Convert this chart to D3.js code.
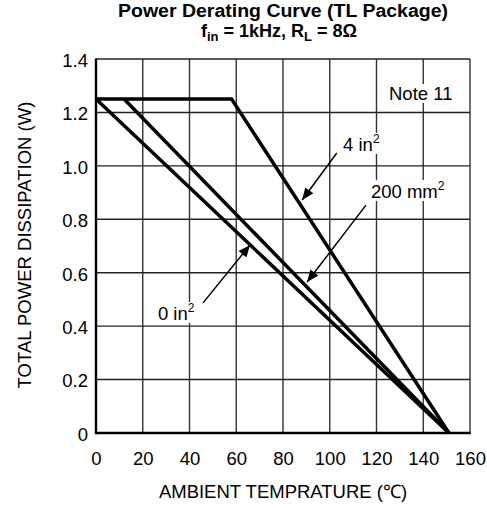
<!DOCTYPE html>
<html>
<head>
<meta charset="utf-8">
<script src="https://cdn.jsdelivr.net/npm/d3@7"></script>
<style>
  body { margin: 0; background: #fff; }
  text { font-family: "Liberation Sans", Arial, sans-serif; fill: #000; }
</style>
</head>
<body>
<div id="chart"></div>
<script>
// chart data
var tempTicks = [0, 20, 40, 60, 80, 100, 120, 140, 160];
var powerTicks = [0, 0.2, 0.4, 0.6, 0.8, 1.0, 1.2, 1.4];

// curves, [temperature C, power W]
var curve4in = [[0, 1.25], [58, 1.25], [151, 0]];
var curve200mm = [[12, 1.25], [151, 0]];
var curve0in = [[0, 1.25], [151, 0]];

// callouts: label, label anchor point, arrow tail, arrow tip (data units)
var callouts = [
    {main: "4 in", sup: "2", lx: 105.7, ly: 1.056, tail: [103, 1.048], tip: [88.2, 0.872]},
    {main: "200 mm", sup: "2", lx: 117.6, ly: 0.880, tail: [115.5, 0.853], tip: [90.3, 0.565]},
    {main: "0 in", sup: "2", lx: 26.5, ly: 0.423, tail: [45.8, 0.487], tip: [65.9, 0.704]}
];

var width = 487, height = 508;
var plotLeft = 96, plotRight = 470, plotTop = 59, plotBottom = 433;
var fs = "18.5px";

var svg = d3.select("#chart")
    .append("svg")
    .attr("width", width)
    .attr("height", height);

var x = d3.scaleLinear().domain([0, 160]).range([plotLeft, plotRight]);
var y = d3.scaleLinear().domain([0, 1.4]).range([plotBottom, plotTop]);

// grid
svg.append("g")
    .selectAll("line")
    .data(tempTicks)
    .enter().append("line")
    .attr("x1", d => x(d)).attr("x2", d => x(d))
    .attr("y1", plotTop).attr("y2", plotBottom)
    .attr("stroke", "#333").attr("stroke-width", 1.4);

svg.append("g")
    .selectAll("line")
    .data(powerTicks)
    .enter().append("line")
    .attr("x1", plotLeft).attr("x2", plotRight)
    .attr("y1", d => y(d)).attr("y2", d => y(d))
    .attr("stroke", "#222").attr("stroke-width", 1.4);

// axes
var xAxis = svg.append("g")
    .attr("transform", "translate(0," + plotBottom + ")")
    .call(d3.axisBottom(x).tickValues(tempTicks).tickSize(0).tickPadding(19).tickFormat(d3.format("d")));
var yAxis = svg.append("g")
    .attr("transform", "translate(" + plotLeft + ",0)")
    .call(d3.axisLeft(y).tickValues(powerTicks).tickSize(0).tickPadding(8)
        .tickFormat(d => d === 0 ? "0" : d3.format(".1f")(d)));
[xAxis, yAxis].forEach(function(a) {
    a.select(".domain").remove();
    a.selectAll("text").style("font-size", fs).style("font-family", "Liberation Sans, Arial, sans-serif").attr("fill", "#000");
});
yAxis.selectAll("text").attr("dy", "0.4em");

svg.append("line").attr("x1", plotLeft).attr("x2", plotLeft).attr("y1", plotTop - 0.5).attr("y2", plotBottom + 1.2)
    .attr("stroke", "#000").attr("stroke-width", 2.4);
svg.append("line").attr("x1", plotLeft).attr("x2", plotRight + 0.8).attr("y1", plotBottom).attr("y2", plotBottom)
    .attr("stroke", "#000").attr("stroke-width", 2.4);

// note box (breaks the grid)
var note = svg.append("g");
var noteText = note.append("text").attr("x", 389).attr("y", 100)
    .style("font-size", fs).text("Note 11");
var nb = noteText.node().getBBox();
note.insert("rect", "text").attr("x", nb.x - 3).attr("y", nb.y + 1)
    .attr("width", nb.width + 6).attr("height", nb.height - 2).attr("fill", "#fff");

var labels = svg.append("g").selectAll("g")
    .data(callouts)
    .enter().append("g");

labels.append("text")
    .attr("class", "callout")
    .attr("x", d => x(d.lx))
    .attr("y", d => y(d.ly))
    .style("font-size", fs)
    .each(function(d) {
        var t = d3.select(this);
        t.append("tspan").text(d.main);
        t.append("tspan").attr("dy", -8).style("font-size", "12px").text(d.sup);
    });

labels.each(function() {
    var g = d3.select(this);
    var bb = g.select("text").node().getBBox();
    g.insert("rect", "text")
        .attr("x", bb.x - 3).attr("y", bb.y + 1)
        .attr("width", bb.width + 6).attr("height", bb.height - 2)
        .attr("fill", "#fff");
});

// curves
var line = d3.line().x(d => x(d[0])).y(d => y(d[1]));
[curve4in, curve200mm, curve0in].forEach(function(c) {
    svg.append("path")
        .attr("d", line(c))
        .attr("fill", "none")
        .attr("stroke", "#000")
        .attr("stroke-width", 3.5)
        .attr("stroke-linejoin", "miter");
});

// arrows
svg.append("defs").append("marker")
    .attr("id", "head")
    .attr("viewBox", "0 0 12 10")
    .attr("refX", 12).attr("refY", 5)
    .attr("markerWidth", 13).attr("markerHeight", 10)
    .attr("markerUnits", "userSpaceOnUse")
    .attr("orient", "auto")
    .append("path").attr("d", "M0,0 L12,5 L0,10 Z").attr("fill", "#000");

svg.append("g").selectAll("line")
    .data(callouts)
    .enter().append("line")
    .attr("x1", d => x(d.tail[0])).attr("y1", d => y(d.tail[1]))
    .attr("x2", d => x(d.tip[0])).attr("y2", d => y(d.tip[1]))
    .attr("stroke", "#000").attr("stroke-width", 1.5)
    .attr("marker-end", "url(#head)");

// titles
svg.append("text").attr("x", 283).attr("y", 16.5).attr("text-anchor", "middle")
    .attr("textLength", 330).attr("lengthAdjust", "spacingAndGlyphs")
    .style("font-size", "18px").style("font-weight", "bold")
    .text("Power Derating Curve (TL Package)");
var sub = svg.append("text").attr("x", 279).attr("y", 37).attr("text-anchor", "middle")
    .style("font-size", "18px").style("font-weight", "bold");
sub.append("tspan").text("f");
sub.append("tspan").attr("dy", 4).style("font-size", "13px").text("in");
sub.append("tspan").attr("dy", -4).text(" = 1kHz, R");
sub.append("tspan").attr("dy", 4).style("font-size", "13px").text("L");
sub.append("tspan").attr("dy", -4).text(" = 8Ω");

svg.append("text").attr("x", 283).attr("y", 498).attr("text-anchor", "middle")
    .style("font-size", fs).text("AMBIENT TEMPRATURE (\u2103)");
svg.append("text").attr("transform", "translate(31,245) rotate(-90)").attr("text-anchor", "middle")
    .style("font-size", fs).text("TOTAL POWER DISSIPATION (W)");
</script>
</body>
</html>
